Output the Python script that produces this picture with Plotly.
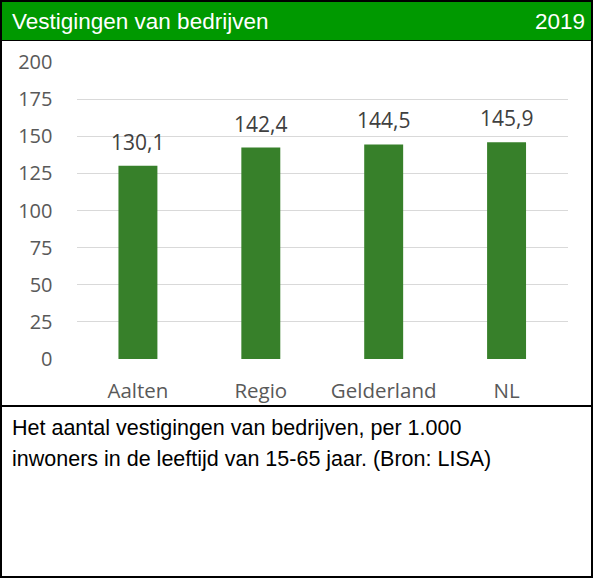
import plotly.graph_objects as go

categories = ["Aalten", "Regio", "Gelderland", "NL"]
values = [130.1, 142.4, 144.5, 145.9]
title_text = "Vestigingen van bedrijven"
year_text = "2019"
note_lines = ["Het aantal vestigingen van bedrijven, per 1.000",
              "inwoners in de leeftijd van 15-65 jaar. (Bron: LISA)"]

W, H = 593, 578
def px(x): return x / W
def py(y): return 1 - y / H

AX_FONT = "Open Sans, Lato, sans-serif"
TXT_FONT = "Liberation Sans, Arial, sans-serif"

fig = go.Figure()
fig.add_trace(go.Bar(
    x=categories, y=values,
    marker=dict(color="#37802a", line=dict(width=0)),
    cliponaxis=False,
))

value_labels = [
    dict(x=c, y=v, xref="x", yref="y", text=f"{v:.1f}".replace(".", ","),
         showarrow=False, xanchor="center", yanchor="bottom", yshift=8,
         font=dict(family=AX_FONT, size=21, color="#404040"))
    for c, v in zip(categories, values)
]

fig.update_layout(
    template="none",
    width=W, height=H, autosize=False,
    margin=dict(l=0, r=0, t=0, b=0, pad=0, autoexpand=False),
    paper_bgcolor="white", plot_bgcolor="white",
    bargap=0.683,
    separators=",.",
    showlegend=False,
    xaxis=dict(domain=[px(76.5), px(568)], showgrid=False, zeroline=False, showline=False,
               automargin=False,
               tickfont=dict(family=AX_FONT, size=20.5, color="#595959"),
               ticks="", ticklabelstandoff=17, fixedrange=True),
    yaxis=dict(domain=[py(359), py(62)], range=[0, 200], tickvals=[0,25,50,75,100,125,150,175,200],
               automargin=False,
               showgrid=True, gridcolor="#d9d9d9", gridwidth=1, zeroline=False, showline=False,
               tickfont=dict(family=AX_FONT, size=20, color="#595959"),
               ticks="", ticklabelstandoff=23, fixedrange=True),
    shapes=[
        dict(type="rect", xref="paper", yref="paper", x0=px(2), x1=px(591), y0=py(40), y1=py(2),
             fillcolor="#009900", line=dict(width=0), layer="above"),
        dict(type="line", xref="paper", yref="paper", x0=px(1), x1=px(592), y0=py(406), y1=py(406),
             line=dict(color="black", width=2)),
        dict(type="line", xref="paper", yref="paper", x0=px(1), x1=px(592), y0=py(40.5), y1=py(40.5),
             line=dict(color="black", width=1)),
        dict(type="rect", xref="paper", yref="paper", x0=px(1), x1=px(592), y0=py(577), y1=py(1),
             line=dict(color="black", width=2), fillcolor="rgba(0,0,0,0)"),
    ],
    annotations=value_labels + [
        dict(text=title_text, xref="paper", yref="paper", x=px(10), y=py(21), xanchor="left", yanchor="middle",
             showarrow=False, font=dict(family=TXT_FONT, size=22.5, color="white")),
        dict(text=year_text, xref="paper", yref="paper", x=px(587), y=py(21), xanchor="right", yanchor="middle",
             showarrow=False, font=dict(family=TXT_FONT, size=22.5, color="white")),
        dict(text=note_lines[0], xref="paper", yref="paper", x=px(10), y=py(428), xanchor="left", yanchor="middle",
             showarrow=False, font=dict(family=TXT_FONT, size=21.5, color="black")),
        dict(text=note_lines[1], xref="paper", yref="paper", x=px(10), y=py(459), xanchor="left", yanchor="middle",
             showarrow=False, font=dict(family=TXT_FONT, size=21.5, color="black")),
    ],
)

fig.write_html("out.html", config={"displayModeBar": False},
               post_script="document.body.style.margin='0';document.body.style.padding='0';")
